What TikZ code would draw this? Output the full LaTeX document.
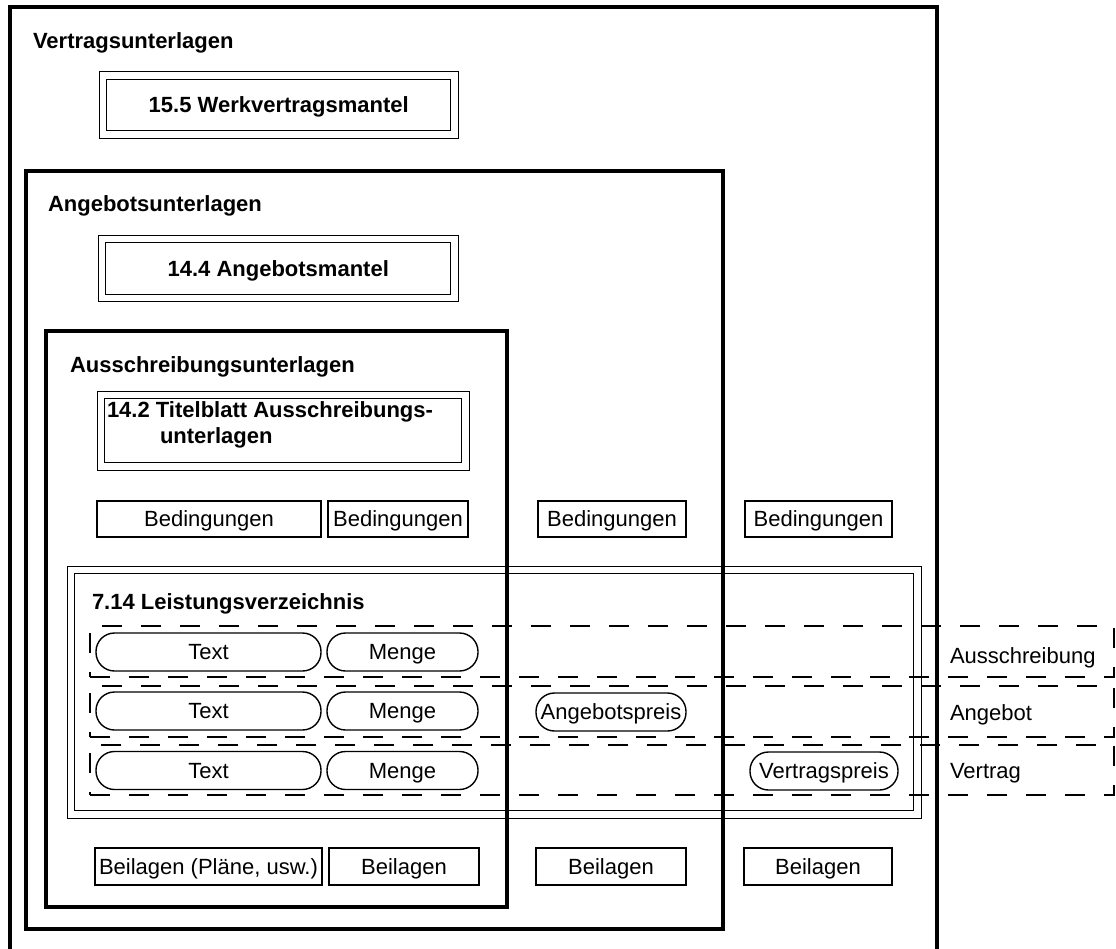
\documentclass[tikz,border=0pt]{standalone}
\usepackage{fontspec}
\setmainfont{Liberation Sans}
\begin{document}
\begin{tikzpicture}[x=1bp,y=-1bp,
  every node/.style={inner sep=0pt, outer sep=0pt, font=\fontsize{22bp}{26bp}\selectfont},
  frame/.style={draw, line width=3.4bp, rectangle, anchor=north west},
  dbox/.style={draw, line width=1.4bp, double, double distance=6.1bp, anchor=north west},
  tbox/.style={draw, line width=1.4bp, text height=15.8bp, text depth=0pt},
  pill/.style={draw, line width=1.4bp, rounded corners=18.5bp, text height=15.8bp, text depth=0pt},
  rowbox/.style={draw, line width=1.6bp, dash pattern=on 20bp off 19bp, anchor=north west},
  head/.style={anchor=base west, font=\fontsize{22bp}{26bp}\selectfont\bfseries},
  btext/.style={text height=15.8bp, text depth=0pt, font=\fontsize{22bp}{26bp}\selectfont\bfseries},
  lbl/.style={anchor=base west}]
\useasboundingbox (0,0) rectangle (1116,949);
\clip (0,0) rectangle (1116,949);

% title sheets (double frames)
\node[dbox, minimum width=351.5bp, minimum height=59bp] (werk) at (103,75.5) {};
\node[dbox, minimum width=352.5bp, minimum height=59bp] (angmantel) at (102,239) {};
\node[dbox, minimum width=364.5bp, minimum height=71.5bp] (titel) at (101,395) {};
\node[dbox, minimum width=846.5bp, minimum height=244.5bp] (lv) at (71,570) {};

% conditions
\node[tbox, minimum width=224bp, minimum height=36bp] (bed1) at (209,519) {Bedingungen};
\node[tbox, minimum width=140bp, minimum height=36bp] (bed2) at (398,519) {Bedingungen};
\node[tbox, minimum width=148bp, minimum height=36bp] (bed3) at (612,519) {Bedingungen};
\node[tbox, minimum width=147bp, minimum height=36bp] (bed4) at (818.5,519) {Bedingungen};

% enclosures
\node[tbox, minimum width=227bp, minimum height=37bp] (beil1) at (208.5,866.5) {Beilagen (Pläne, usw.)};
\node[tbox, minimum width=150bp, minimum height=37bp] (beil2) at (404,866.5) {Beilagen};
\node[tbox, minimum width=150bp, minimum height=37bp] (beil3) at (611,866.5) {Beilagen};
\node[tbox, minimum width=148bp, minimum height=37bp] (beil4) at (818,866.5) {Beilagen};

% bill of quantities entries
\node[pill, minimum width=225bp, minimum height=38bp] (textA) at (208.5,652) {Text};
\node[pill, minimum width=151bp, minimum height=38bp] (mengeA) at (402.5,652) {Menge};
\node[pill, minimum width=225bp, minimum height=38bp] (textB) at (208.5,711) {Text};
\node[pill, minimum width=151bp, minimum height=38bp] (mengeB) at (402.5,711) {Menge};
\node[pill, minimum width=225bp, minimum height=38bp] (textC) at (208.5,770.5) {Text};
\node[pill, minimum width=151bp, minimum height=38bp] (mengeC) at (402.5,770.5) {Menge};
\node[pill, minimum width=150bp, minimum height=38bp] (apreis) at (611,712) {Angebotspreis};
\node[pill, minimum width=148bp, minimum height=38bp] (vpreis) at (824,771) {Vertragspreis};

% phase rows
\node[rowbox, minimum width=1024bp, minimum height=51bp] (zA) at (90,626) {};
\node[rowbox, minimum width=1024bp, minimum height=51bp] (zB) at (90,686) {};
\node[rowbox, minimum width=1024bp, minimum height=50bp] (zC) at (90,745) {};
\node[lbl] (lA) at (950,663) {Ausschreibung};
\node[lbl] (lB) at (950,720) {Angebot};
\node[lbl] (lC) at (950,778) {Vertrag};

% nested document sets
\node[frame, minimum width=927bp, minimum height=970bp] (vertrag) at (10,7) {};
\node[frame, minimum width=697bp, minimum height=758bp] (angebot) at (26,171) {};
\node[frame, minimum width=461bp, minimum height=576bp] (ausschr) at (46,331) {};

% headings
\node[head] (tVertrag) at (33,48) {Vertragsunterlagen};
\node[head] (tAngebot) at (48,211) {Angebotsunterlagen};
\node[head] (tAusschr) at (70,372) {Ausschreibungsunterlagen};
\node[head] (tLV) at (92,609) {7.14 Leistungsverzeichnis};
\node[btext] (tWerk) at (werk.center) {15.5 Werkvertragsmantel};
\node[btext] (tAngMantel) at (angmantel.center) {14.4 Angebotsmantel};
\node[head] (tTitel1) at (107,417) {14.2 Titelblatt Ausschreibungs-};
\node[head] (tTitel2) at (160,443) {unterlagen};
\end{tikzpicture}
\end{document}
